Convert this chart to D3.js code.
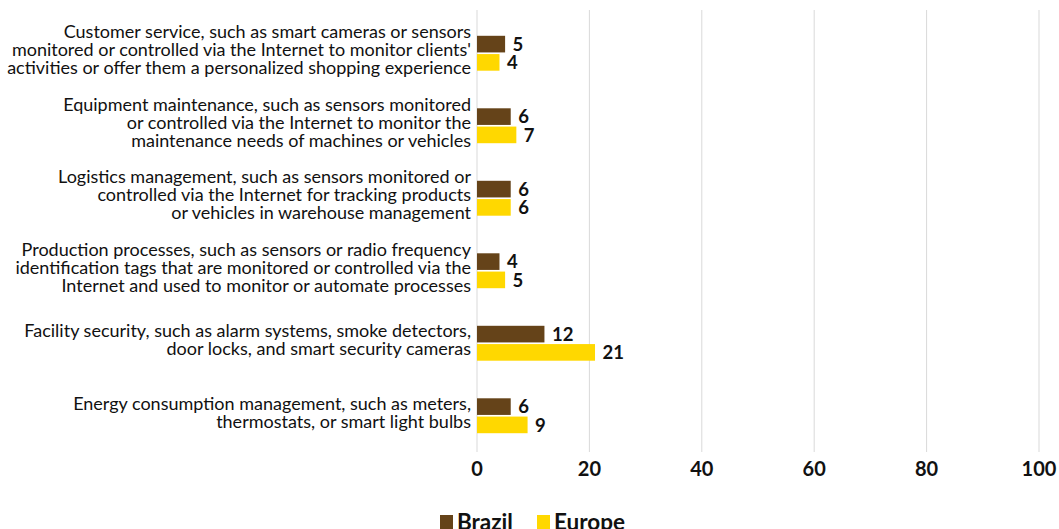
<!DOCTYPE html>
<html>
<head>
<meta charset="utf-8">
<script src="https://cdn.jsdelivr.net/npm/d3@7"></script>
<style>
  html, body { margin: 0; padding: 0; background: #fff; overflow: hidden; }
  svg { display: block; font-family: Lato, "Open Sans", sans-serif; }
</style>
</head>
<body>
<svg id="chart" width="1059" height="529"></svg>
<script>
// Uses of IoT devices, share of enterprises (%)
const categories = [
  ["Customer service, such as smart cameras or sensors", "monitored or controlled via the Internet to monitor clients'", "activities or offer them a personalized shopping experience"],
  ["Equipment maintenance, such as sensors monitored", "or controlled via the Internet to monitor the", "maintenance needs of machines or vehicles"],
  ["Logistics management, such as sensors monitored or", "controlled via the Internet for tracking products", "or vehicles in warehouse management"],
  ["Production processes, such as sensors or radio frequency", "identification tags that are monitored or controlled via the", "Internet and used to monitor or automate processes"],
  ["Facility security, such as alarm systems, smoke detectors,", "door locks, and smart security cameras"],
  ["Energy consumption management, such as meters,", "thermostats, or smart light bulbs"]
];
const brazil = [5, 6, 6, 4, 12, 6];
const europe = [4, 7, 6, 5, 21, 9];
const seriesNames = ["Brazil", "Europe"];
const seriesColors = ["#654319", "#FFD800"];
const xTicks = [0, 20, 40, 60, 80, 100];

const svg = d3.select("#chart");
const plotLeft = 477, plotRight = 1039, plotTop = 17, plotBottom = 452;

const x = d3.scaleLinear().domain([0, 100]).range([plotLeft, plotRight]);
const y = d3.scaleBand().domain(d3.range(categories.length)).range([plotTop, plotBottom]).padding(0);
const sub = d3.scaleBand().domain([0, 1]).range([-18, 18]).paddingInner(0.09).paddingOuter(0.03);

// vertical gridlines
svg.append("g").selectAll("line")
  .data(xTicks)
  .join("line")
  .attr("x1", d => x(d)).attr("x2", d => x(d))
  .attr("y1", 10).attr("y2", plotBottom)
  .attr("stroke", "#d9d9d9").attr("stroke-width", 1);

// bars
const data = categories.map((c, i) => ({ i, vals: [brazil[i], europe[i]] }));
const groups = svg.append("g").selectAll("g")
  .data(data)
  .join("g")
  .attr("transform", d => `translate(0,${y(d.i) + y.bandwidth() / 2})`);

groups.selectAll("rect")
  .data(d => d.vals.map((v, s) => ({ v, s })))
  .join("rect")
  .attr("x", x(0))
  .attr("y", d => sub(d.s))
  .attr("width", d => x(d.v) - x(0))
  .attr("height", sub.bandwidth())
  .attr("fill", d => seriesColors[d.s]);

groups.selectAll("text.val")
  .data(d => d.vals.map((v, s) => ({ v, s })))
  .join("text")
  .attr("class", "val")
  .attr("x", d => x(d.v) + 7.5)
  .attr("y", d => sub(d.s) + sub.bandwidth() / 2)
  .attr("dy", "0.36em")
  .attr("font-size", 18.5)
  .attr("font-weight", 700)
  .attr("fill", "#111")
  .text(d => d.v);

// category labels
const lineH = 18;
svg.append("g").selectAll("text")
  .data(categories.map((lines, i) => ({ lines, i })))
  .join("text")
  .attr("text-anchor", "end")
  .attr("font-size", 18)
  .attr("fill", "#111")
  .each(function (d) {
    const cy = y(d.i) + y.bandwidth() / 2 - 3.5;
    const n = d.lines.length;
    d3.select(this).selectAll("tspan")
      .data(d.lines)
      .join("tspan")
      .attr("x", 471)
      .attr("y", (l, k) => cy + (k - (n - 1) / 2) * lineH)
      .attr("dy", "0.35em")
      .text(l => l);
  });

// x axis tick labels
svg.append("g").selectAll("text")
  .data(xTicks)
  .join("text")
  .attr("x", d => x(d))
  .attr("y", 469)
  .attr("dy", "0.36em")
  .attr("text-anchor", "middle")
  .attr("font-size", 20)
  .attr("font-weight", 700)
  .attr("fill", "#111")
  .text(d => d);

// legend
const legend = svg.append("g").selectAll("g")
  .data(seriesNames)
  .join("g")
  .attr("transform", (d, i) => `translate(${440 + i * 97},0)`);
legend.append("rect")
  .attr("x", 0).attr("y", 515)
  .attr("width", 13).attr("height", 14)
  .attr("fill", (d, i) => seriesColors[i]);
legend.append("text")
  .attr("x", 17).attr("y", 530)
  .attr("font-size", 22.5)
  .attr("font-weight", 700)
  .attr("fill", "#111")
  .text(d => d);
</script>
</body>
</html>
